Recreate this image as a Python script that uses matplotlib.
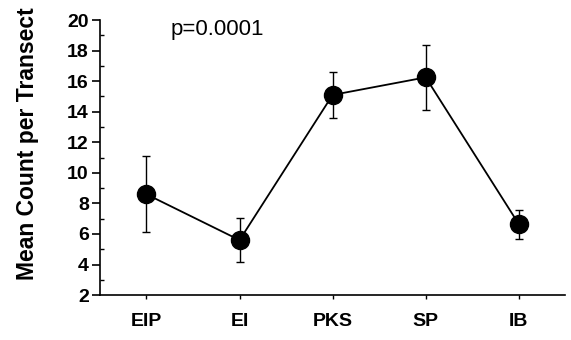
import matplotlib.pyplot as plt
from matplotlib.ticker import MultipleLocator

plt.rcParams['font.family'] = ['Liberation Sans', 'DejaVu Sans']
plt.rcParams['font.weight'] = 'bold'

sites = ['EIP', 'EI', 'PKS', 'SP', 'IB']
mean_count = [8.6, 5.6, 15.1, 16.25, 6.65]
err = [2.5, 1.45, 1.5, 2.15, 0.95]

fig = plt.figure(figsize=(5.71, 3.4), dpi=100)
ax = fig.add_axes([0.175, 0.132, 0.815, 0.809])

x = range(len(sites))
ax.errorbar(x, mean_count, yerr=err, fmt='-o', color='black', ecolor='black',
            markersize=13, linewidth=1.3, elinewidth=1.0, capsize=3, capthick=1.0)

ax.set_xlim(-0.5, 4.5)
ax.set_ylim(2, 20)
ax.set_xticks(list(x))
ax.set_xticklabels(sites, fontsize=14, fontweight='bold')
ax.yaxis.set_major_locator(MultipleLocator(2))
ax.yaxis.set_minor_locator(MultipleLocator(1))
ax.tick_params(axis='y', which='major', labelsize=14, length=6, width=1.2, pad=2)
ax.tick_params(axis='y', which='minor', direction='in', length=3, width=1)
ax.tick_params(axis='x', length=3, width=1, pad=10)
for t in ax.get_yticklabels():
    t.set_fontweight('bold')

ax.spines['top'].set_visible(False)
ax.spines['right'].set_visible(False)
ax.spines['left'].set_linewidth(1.2)
ax.spines['bottom'].set_linewidth(1.2)

ax.set_ylabel('Mean Count per Transect', fontsize=16.5, fontweight='bold')
ax.yaxis.set_label_coords(-0.13, 0.55)
ax.text(0.76, 19.4, 'p=0.0001', fontsize=16, fontweight='normal', ha='center', va='center')

fig.savefig('out.png', dpi=100)
